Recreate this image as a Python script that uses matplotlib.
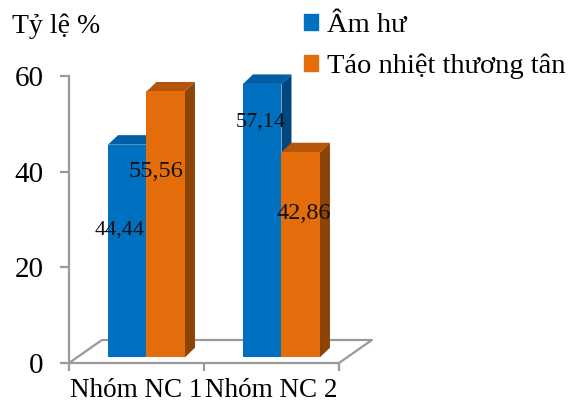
import matplotlib.pyplot as plt
from matplotlib.patches import Polygon, Patch

plt.rcParams['font.family'] = ['Liberation Serif', 'DejaVu Serif']

groups = ['Nhóm NC 1', 'Nhóm NC 2']
series = ['Âm hư', 'Táo nhiệt thương tân']
am_hu = [44.44, 57.14]
tao_nhiet = [55.56, 42.86]
y_ticks = [0, 20, 40, 60]

front = ['#0070C0', '#E46C0A']
top_c = ['#005EA4', '#B5560A']
side_c = ['#00477D', '#8C4307']
grid_c = '#9A9A9A'

fig = plt.figure(figsize=(5.75, 4.11), dpi=100)
W, H = 575, 411
# axes box: y-axis line at x=69px, 0 at y=363px, 60 at y=76px
ax = fig.add_axes([69 / W, (H - 363) / H, 270 / W, 287 / H])
ax.set_xlim(-0.5, 1.5)
ax.set_ylim(0, 60)

# 3D-ish geometry (data units)
bw = 0.285          # bar width
shift = 0.074       # bars sit back from the front edge
base = 1.2
ddx, ddy = 0.074, 1.99   # bar depth
fdx, fdy = 0.244, 4.81   # floor depth

# floor outline
fx = [-0.5, 1.5, 1.5 + fdx, -0.5 + fdx, -0.5]
fy = [0, 0, fdy, fdy, 0]
ax.plot(fx, fy, color=grid_c, lw=1.6, clip_on=False, zorder=1)

label_frac = [[0.60, 0.86], [0.70, 0.70]]
label_dx = [[-0.06, -0.01], [-0.075, 0.025]]
label_size = [16, 17.5]

for s, vals in enumerate([am_hu, tao_nhiet]):
    for g, v in enumerate(vals):
        x0 = g - bw + shift + s * bw
        x1 = x0 + bw
        top = base + v
        side = Polygon([(x1, base), (x1 + ddx, base + ddy),
                        (x1 + ddx, top + ddy), (x1, top)],
                       closed=True, fc=side_c[s], ec='none',
                       clip_on=False, zorder=2 + s * 3)
        topf = Polygon([(x0, top), (x0 + ddx, top + ddy),
                        (x1 + ddx, top + ddy), (x1, top)],
                       closed=True, fc=top_c[s], ec='none',
                       clip_on=False, zorder=3 + s * 3)
        ax.add_patch(side)
        ax.add_patch(topf)
        ax.bar(x0, v, width=bw, bottom=base, align='edge', color=front[s],
               zorder=4 + s * 3, clip_on=False)
        ax.text(x0 + bw / 2 + label_dx[s][g], base + v * label_frac[s][g],
                f'{v:.2f}'.replace('.', ','), ha='center', va='center',
                fontsize=label_size[s], color='#111111', zorder=20)

# axes styling
for sp in ['top', 'right', 'bottom']:
    ax.spines[sp].set_visible(False)
ax.spines['left'].set_color(grid_c)
ax.spines['left'].set_linewidth(1.6)
ax.set_yticks(y_ticks)
ax.tick_params(axis='y', length=6.5, width=1.6, color=grid_c, pad=12,
               labelsize=21)
ax.set_xticks([-0.5, 0.5, 1.5])
ax.set_xticklabels([])
ax.tick_params(axis='x', length=6, width=1.6, color=grid_c)
ax.set_xticks([0, 1], minor=True)
ax.set_xticklabels(groups, minor=True, fontsize=19.5)
ax.tick_params(axis='x', which='minor', length=0, pad=11)
ax.patch.set_visible(False)

fig.text(12 / W, 1 - 33 / H, 'Tỷ lệ %', fontsize=20, va='baseline',
         ha='left')

handles = [Patch(color=front[0]), Patch(color=front[1])]
fig.legend(handles, series, loc='upper left',
           bbox_to_anchor=(304 / W, 1 - 13 / H), frameon=False,
           fontsize=20.5, handlelength=0.5, handleheight=0.5,
           handletextpad=0.3, labelspacing=0.55, borderpad=0,
           borderaxespad=0)

fig.savefig('out.png', dpi=100)
